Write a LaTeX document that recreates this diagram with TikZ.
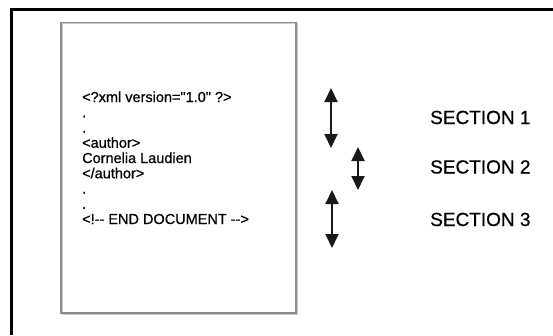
\documentclass[tikz,border=0pt]{standalone}
\usepackage{fontspec}
\newfontfamily\arial{Liberation Sans}[FakeBold=0.6]
\usetikzlibrary{arrows.meta}
\begin{document}
\begin{tikzpicture}[x=1pt,y=-1pt,
  docline/.style={anchor=base west,inner sep=0pt,font=\arial\fontsize{14.5}{15}\selectfont,text=black},
  seclabel/.style={anchor=base west,inner sep=0pt,font=\arial\fontsize{19}{20}\selectfont,text=black},
  sectarrow/.style={draw=black!90,line width=2pt,{Triangle[width=13pt,length=14pt]}-{Triangle[width=13pt,length=14pt]}}]
\useasboundingbox (0,0) rectangle (553,335);
\fill[white] (0,0) rectangle (553,335);
% outer frame (top and left only)
\draw[line width=3pt,line join=miter] (553,9.5) -- (11,9.5) -- (11,335);
% document page
\draw[draw=black!20,line width=1pt] (62.5,23.5) rectangle (297.5,314.5);
\draw[draw=black!45,line width=1.4pt] (61,22.5) rectangle (296,313);
% document text
\node[docline] (l1) at (82,102) {<?xml version="1.0" ?>};
\node[docline] (l2) at (82,117.25) {.};
\node[docline] (l3) at (82,132.5) {.};
\node[docline] (l4) at (82,147.75) {<author>};
\node[docline] (l5) at (82,163) {Cornelia Laudien};
\node[docline] (l6) at (82,178.25) {</author>};
\node[docline] (l7) at (82,193.5) {.};
\node[docline] (l8) at (82,208.75) {.};
\node[docline] (l9) at (82,224) {<!-- END DOCUMENT -->};
% section arrows
\coordinate (a1t) at (331,88);
\coordinate (a1b) at (331,148);
\coordinate (a2t) at (358,147);
\coordinate (a2b) at (358,190);
\coordinate (a3t) at (332,190);
\coordinate (a3b) at (332,248);
\draw[sectarrow] (a1t) -- (a1b);
\draw[sectarrow] (a2t) -- (a2b);
\draw[sectarrow] (a3t) -- (a3b);
% section labels
\node[seclabel] (s1) at (430,124) {SECTION 1};
\node[seclabel] (s2) at (430,173.5) {SECTION 2};
\node[seclabel] (s3) at (430,226) {SECTION 3};
\end{tikzpicture}
\end{document}
